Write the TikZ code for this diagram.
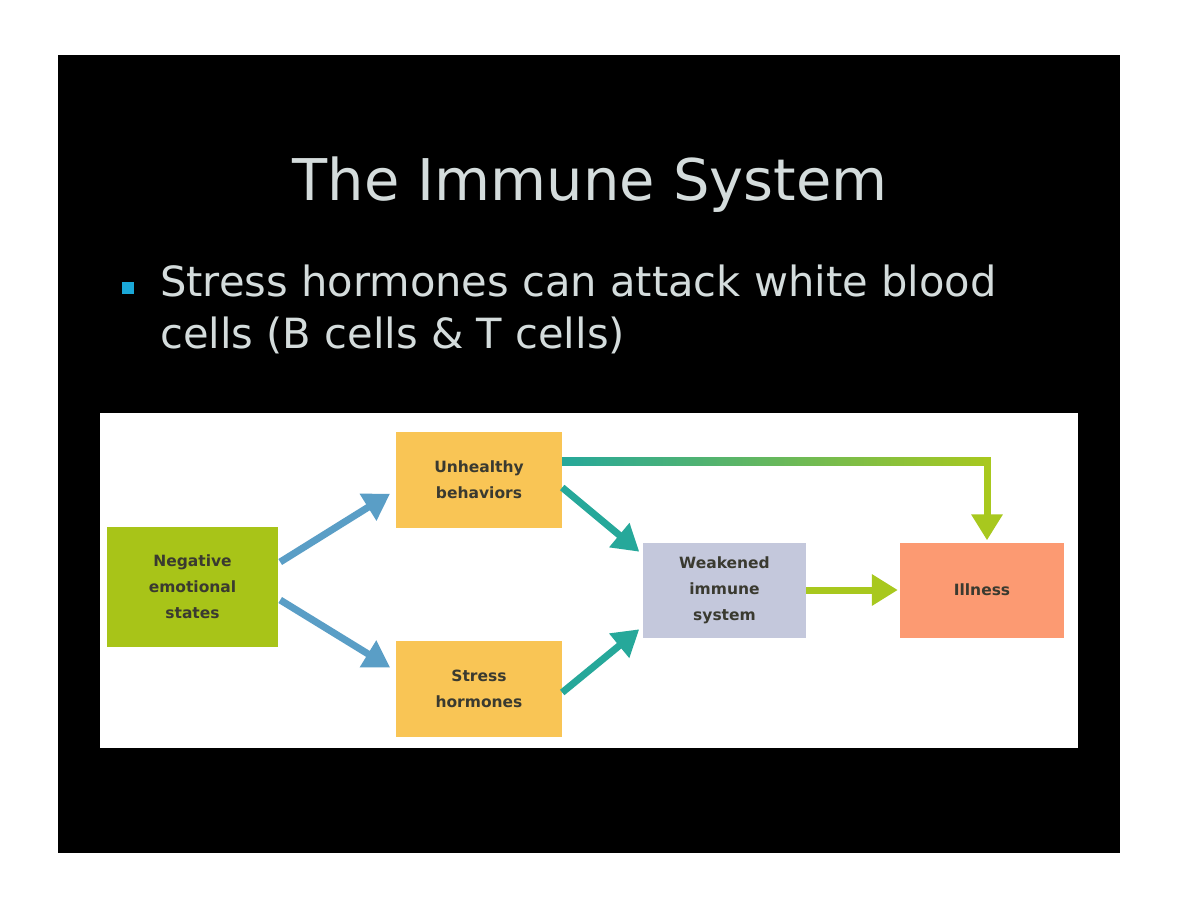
\documentclass[tikz,border=0pt]{standalone}
\usepackage{fontspec}
\setmainfont{DejaVu Sans}
\usetikzlibrary{arrows.meta,calc}
\definecolor{slidegrey}{HTML}{D4DCDC}
\definecolor{bulletcyan}{HTML}{1AA8D8}
\definecolor{neggreen}{HTML}{A8C418}
\definecolor{boxorange}{HTML}{F9C555}
\definecolor{boxlav}{HTML}{C4C8DC}
\definecolor{boxsalmon}{HTML}{FC9A72}
\definecolor{arrblue}{HTML}{5A9EC6}
\definecolor{arrteal}{HTML}{26A89A}
\definecolor{arrgreen}{HTML}{A8C81E}
\definecolor{boxtext}{HTML}{3A3A30}
\tikzset{
  box/.style={fill=#1, draw=none, minimum width=166pt, minimum height=96pt, inner sep=0pt,
    align=center, font=\fontsize{15.5}{26}\selectfont\bfseries, text=boxtext},
  conn/.style={line width=7pt, -{Triangle[length=26pt,width=30pt]}, shorten >=2pt},
}
\begin{document}
\begin{tikzpicture}[x=1pt,y=-1pt]
\useasboundingbox (0,0) rectangle (1180,911);
\fill[white] (0,0) rectangle (1180,911);
\fill[black] (58,55) rectangle (1120,853);
\node[text=slidegrey, font=\fontsize{57.5}{68}\selectfont] (title) at (590,185) {The Immune System};
\fill[bulletcyan] (122,282) rectangle (134,294);
\node[text=slidegrey, font=\fontsize{41.6}{52}\selectfont, anchor=north west, align=left, inner sep=0pt] (bullet) at (160,265)
  {Stress hormones can attack white blood\\cells (B cells \& T cells)};
\fill[white] (100,413) rectangle (1078,748);
\node[box=neggreen, minimum width=171pt, minimum height=120pt] (neg) at (192.5,587) {Negative\\emotional\\states};
\node[box=boxorange] (unh) at (479,479.5) {Unhealthy\\behaviors};
\node[box=boxorange] (str) at (479,688.5) {Stress\\hormones};
\node[box=boxlav, minimum width=163pt, minimum height=95pt] (weak) at (724.5,590) {Weakened\\immune\\system};
\node[box=boxsalmon, minimum width=164pt, minimum height=95pt] (ill) at (982,590) {Illness};
\draw[conn, arrblue] ($(neg.east)+(2,-25)$) -- ($(unh.west)+(-4,13)$);
\draw[conn, arrblue] ($(neg.east)+(2,13)$) -- ($(str.west)+(-4,-20)$);
\draw[conn, arrteal] ($(unh.east)+(0,8)$) -- ($(weak.west)+(-2,-37)$);
\draw[conn, arrteal] ($(str.east)+(0,4)$) -- ($(weak.west)+(-2,38)$);
\draw[conn, arrgreen] (weak.east) -- (weak.east -| ill.west);
\coordinate (corner) at (987,461);
\shade[left color=arrteal, right color=arrgreen] ($(unh.east)+(0,-22.5)$) rectangle ($(corner)+(3.5,4)$);
\draw[conn, arrgreen] ($(corner)+(0,-4)$) -- (ill.north -| corner);
\end{tikzpicture}
\end{document}
